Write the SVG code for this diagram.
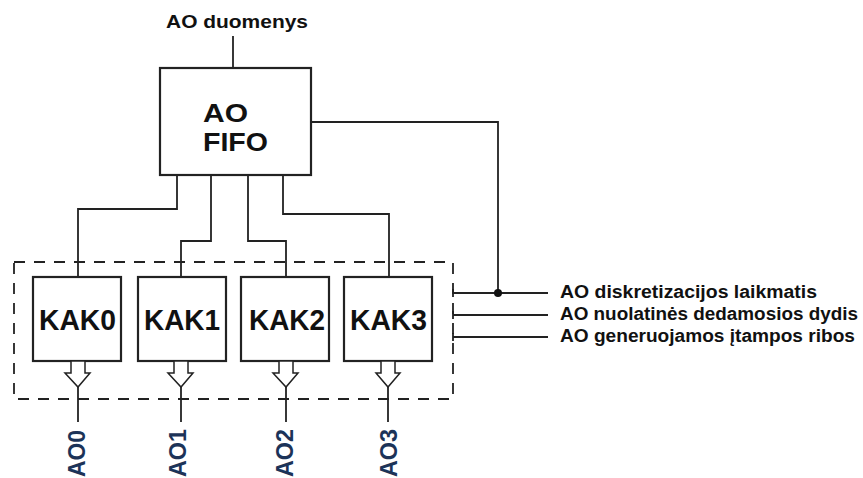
<svg xmlns="http://www.w3.org/2000/svg" width="863" height="478" viewBox="0 0 863 478">
<style>
.box{fill:#fff;stroke:#222;stroke-width:2.2}
.ln{fill:none;stroke:#222;stroke-width:1.8}
.dash{fill:none;stroke:#222;stroke-width:1.8;stroke-dasharray:11 9}
.arr{fill:#fff;stroke:#222;stroke-width:1.5}
text{font-family:"Liberation Sans",Arial,sans-serif;font-weight:bold;fill:#111}
.kak{font-size:29px}
.lbl{font-size:18px}
.ao{font-size:23px;fill:#1c3358}
</style>
<rect class="dash" x="14" y="262" width="439" height="137"/>
<g id="connectors">
<line class="ln" x1="233" y1="36" x2="233" y2="68"/>
<polyline class="ln" points="311,122 498,122 498,293"/>
<polyline class="ln" points="177,175 177,209 78,209 78,277"/>
<polyline class="ln" points="211,175 211,241 181,241 181,277"/>
<polyline class="ln" points="248,175 248,241 286,241 286,277"/>
<polyline class="ln" points="283,175 283,214 389,214 389,277"/>
<line class="ln" x1="453" y1="293" x2="548" y2="293"/>
<line class="ln" x1="453" y1="315" x2="548" y2="315"/>
<line class="ln" x1="453" y1="337" x2="548" y2="337"/>
<line class="ln" x1="453" y1="289" x2="453" y2="297"/>
<line class="ln" x1="453" y1="311" x2="453" y2="319"/>
<line class="ln" x1="453" y1="333" x2="453" y2="341"/>
<circle cx="498" cy="293" r="4" fill="#111"/>
<line class="ln" x1="78" y1="387" x2="78" y2="422"/>
<line class="ln" x1="181" y1="387" x2="181" y2="422"/>
<line class="ln" x1="286" y1="387" x2="286" y2="422"/>
<line class="ln" x1="388" y1="387" x2="388" y2="422"/>
</g>
<g id="label-in"><text class="lbl" x="166" y="28" textLength="142" lengthAdjust="spacingAndGlyphs">AO duomenys</text></g>
<g id="fifo">
<rect class="box" x="160" y="68" width="151" height="107"/>
<text x="203" y="122" font-size="26" textLength="45" lengthAdjust="spacingAndGlyphs">AO</text>
<text x="203" y="151" font-size="26" textLength="65" lengthAdjust="spacingAndGlyphs">FIFO</text>
</g>
<g id="kak0">
<rect class="box" x="33" y="277" width="88" height="84"/>
<text class="kak" x="39" y="330" textLength="77" lengthAdjust="spacingAndGlyphs">KAK0</text>
<polygon class="arr" points="71,361 85,361 85,373 90,373 78,387 65,373 71,373"/>
</g>
<g id="kak1">
<rect class="box" x="138" y="277" width="88" height="84"/>
<text class="kak" x="144" y="330" textLength="76" lengthAdjust="spacingAndGlyphs">KAK1</text>
<polygon class="arr" points="174,361 188,361 188,373 193,373 181,387 168,373 174,373"/>
</g>
<g id="kak2">
<rect class="box" x="241" y="277" width="88" height="84"/>
<text class="kak" x="249" y="330" textLength="76" lengthAdjust="spacingAndGlyphs">KAK2</text>
<polygon class="arr" points="279,361 293,361 293,373 298,373 286,387 273,373 279,373"/>
</g>
<g id="kak3">
<rect class="box" x="344" y="277" width="88" height="84"/>
<text class="kak" x="350" y="330" textLength="77" lengthAdjust="spacingAndGlyphs">KAK3</text>
<polygon class="arr" points="381,361 395,361 395,373 400,373 388,387 376,373 381,373"/>
</g>
<g id="labels-right">
<text class="lbl" x="560" y="298" textLength="257" lengthAdjust="spacingAndGlyphs">AO diskretizacijos laikmatis</text>
<text class="lbl" x="560" y="320" textLength="298" lengthAdjust="spacingAndGlyphs">AO nuolatinės dedamosios dydis</text>
<text class="lbl" x="560" y="342" textLength="295" lengthAdjust="spacingAndGlyphs">AO generuojamos įtampos ribos</text>
</g>
<g id="labels-out">
<text class="ao" transform="translate(85,477) rotate(-90)" textLength="47" lengthAdjust="spacingAndGlyphs">AO0</text>
<text class="ao" transform="translate(186,477) rotate(-90)" textLength="48" lengthAdjust="spacingAndGlyphs">AO1</text>
<text class="ao" transform="translate(293,477) rotate(-90)" textLength="48" lengthAdjust="spacingAndGlyphs">AO2</text>
<text class="ao" transform="translate(397,477) rotate(-90)" textLength="48" lengthAdjust="spacingAndGlyphs">AO3</text>
</g>
</svg>
